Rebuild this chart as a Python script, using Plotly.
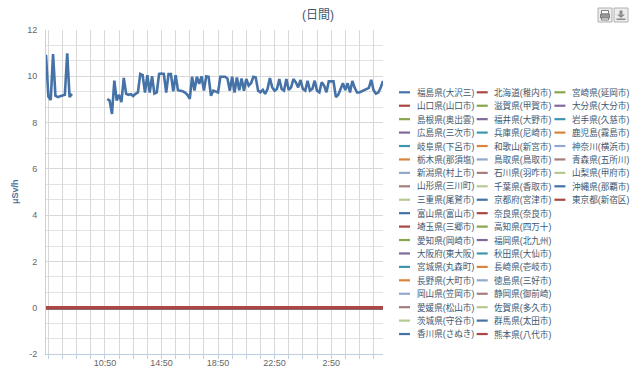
import plotly.graph_objects as go
import pandas as pd

# ---------------- data ----------------
start_time = "2013-03-01 06:40"
n_points = 144  # 10-minute readings, 06:40 -> 06:30 next day

# 福島県(大沢三) readings (μSv/h); None = no data
fukushima_seg1 = [10.93, 9.12, 8.98, 10.96, 9.16, 9.10, 9.14, 9.18, 9.20, 10.99, 9.10, 9.24]
fukushima_gap = [None] * 14
fukushima_seg2 = [
    9.02, 8.95, 8.37, 9.81, 8.95, 9.20, 8.88, 9.93, 9.24, 9.20,
    9.23, 9.15, 9.24, 9.30, 10.10, 10.05, 9.30, 10.05, 9.30, 10.00,
    9.25, 9.30, 10.10, 10.12, 10.10, 9.30, 10.10, 10.10, 9.35, 10.05,
    9.40, 9.38, 9.35, 9.30, 9.20, 9.02, 9.98, 9.38, 9.98, 9.67,
    10.00, 9.38, 10.00, 9.98, 9.16, 9.38, 9.35, 9.30, 9.98, 9.98,
    9.98, 9.90, 9.38, 9.98, 9.30, 9.95, 9.40, 9.90, 9.38, 9.88,
    9.60, 9.70, 9.98, 9.95, 9.38, 9.31, 9.41, 9.24, 9.45, 9.92,
    9.52, 9.38, 9.45, 9.88, 9.45, 9.38, 9.88, 9.41, 9.52, 9.88,
    9.74, 9.52, 9.84, 9.45, 9.38, 9.81, 9.38, 9.45, 9.81, 9.38,
    9.31, 9.74, 9.60, 9.31, 9.78, 9.78, 9.78, 9.10, 9.20, 9.45,
    9.70, 9.40, 9.70, 9.30, 9.80, 9.50, 9.30, 9.30, 9.35, 9.38,
    9.45, 9.50, 9.85, 9.40, 9.25, 9.30, 9.50, 9.80,
]
fukushima_values = fukushima_seg1 + fukushima_gap + fukushima_seg2

# every other station reads ~0 at this scale
other_values = [0.0] * n_points

legend_col1 = ["福島県(大沢三)", "山口県(山口市)", "島根県(奥出雲)", "広島県(三次市)", "岐阜県(下呂市)",
               "栃木県(那須塩)", "新潟県(村上市)", "山形県(三川町)", "三重県(尾鷲市)", "富山県(富山市)",
               "埼玉県(三郷市)", "愛知県(岡崎市)", "大阪府(東大阪)", "宮城県(丸森町)", "長野県(大町市)",
               "岡山県(笠岡市)", "愛媛県(松山市)", "茨城県(守谷市)", "香川県(さぬき)"]
legend_col2 = ["北海道(稚内市)", "滋賀県(甲賀市)", "福井県(大野市)", "兵庫県(尼崎市)", "和歌山(新宮市)",
               "鳥取県(鳥取市)", "石川県(羽咋市)", "千葉県(香取市)", "京都府(宮津市)", "奈良県(奈良市)",
               "高知県(四万十)", "福岡県(北九州)", "秋田県(大仙市)", "長崎県(壱岐市)", "徳島県(三好市)",
               "静岡県(御前崎)", "佐賀県(多久市)", "群馬県(太田市)", "熊本県(八代市)"]
legend_col3 = ["宮崎県(延岡市)", "大分県(大分市)", "岩手県(久慈市)", "鹿児島(霧島市)", "神奈川(横浜市)",
               "青森県(五所川)", "山梨県(甲府市)", "沖縄県(那覇市)", "東京都(新宿区)"]
series_names = legend_col1 + legend_col2 + legend_col3

palette = ["#4572A7", "#AA4643", "#89A54E", "#80699B", "#3D96AE",
           "#DB843D", "#92A8CD", "#A47D7C", "#B5CA92"]

x_tick_labels = ["10:50", "14:50", "18:50", "22:50", "2:50"]
y_tick_values = [-2, 0, 2, 4, 6, 8, 10, 12]
y_tick_labels = ["-2", "0", "2", "4", "6", "8", "10", "12"]

# ---------------- figure ----------------
times = pd.date_range(start=start_time, periods=n_points, freq="10min")
hour_ticks = [t for t in times if t.minute == 50]
hour_text = [t.strftime("%-H:%M") if t.strftime("%-H:%M") in x_tick_labels else "" for t in hour_ticks]

FONT = "Liberation Sans, Noto Sans CJK JP, sans-serif"
W_FIG, H_FIG = 640, 367
L, R, T, B = 46, 257, 30, 13
PW, PH = W_FIG - L - R, H_FIG - T - B

def px_x(px):
    return (px - L) / PW

def px_y(py):
    return (H_FIG - B - py) / PH

fig = go.Figure()
for i, name in enumerate(series_names):
    vals = fukushima_values if i == 0 else other_values
    fig.add_trace(go.Scatter(
        x=times, y=vals, name=name, mode="lines",
        line=dict(color=palette[i % len(palette)], width=2.6 if i == 0 else 3.4),
        connectgaps=False, showlegend=False,
    ))

# manual multi-column legend (Highcharts-style, compact rows)
shapes = []
annotations = []
row_y0, row_step = 92.3, 13.43
col_x0, col_step = 399, 77.7
for i, name in enumerate(series_names):
    col, row = divmod(i, 19)
    cy = row_y0 + row * row_step
    sx = col_x0 + col * col_step
    shapes.append(dict(type="line", xref="paper", yref="paper",
                       x0=px_x(sx), x1=px_x(sx + 11), y0=px_y(cy), y1=px_y(cy),
                       line=dict(color=palette[i % len(palette)], width=2.2)))
    annotations.append(dict(xref="paper", yref="paper", x=px_x(sx + 15.5), y=px_y(cy),
                            xanchor="left", yanchor="middle", showarrow=False,
                            text=name, font=dict(family=FONT, size=8.6, color="#3E576F")))

# y-axis title
annotations.append(dict(xref="paper", yref="paper", x=px_x(15), y=px_y(192),
                        xanchor="center", yanchor="middle", showarrow=False, textangle=-90,
                        text="<b>μSv/h</b>", font=dict(family=FONT, size=9, color="#4D759E")))

# export / print buttons (top right)
for bx in (598, 614):
    shapes.append(dict(type="rect", xref="paper", yref="paper",
                       x0=px_x(bx), x1=px_x(bx + 14), y0=px_y(8), y1=px_y(22),
                       fillcolor="#EDEDED", line=dict(color="#B0B0B0", width=1)))
# printer icon
shapes.append(dict(type="rect", xref="paper", yref="paper", x0=px_x(601.5), x1=px_x(608.5),
                   y0=px_y(10.5), y1=px_y(14), fillcolor="#FFFFFF", line=dict(color="#808080", width=1)))
shapes.append(dict(type="rect", xref="paper", yref="paper", x0=px_x(600.5), x1=px_x(609.5),
                   y0=px_y(14), y1=px_y(18), fillcolor="#9A9A9A", line=dict(color="#808080", width=1)))
shapes.append(dict(type="rect", xref="paper", yref="paper", x0=px_x(601.5), x1=px_x(608.5),
                   y0=px_y(18), y1=px_y(20), fillcolor="#FFFFFF", line=dict(color="#808080", width=1)))
# download icon
shapes.append(dict(type="rect", xref="paper", yref="paper", x0=px_x(619.5), x1=px_x(622.5),
                   y0=px_y(10.5), y1=px_y(14.5), fillcolor="#8A8A8A", line=dict(width=0)))
shapes.append(dict(type="path", xref="paper", yref="paper",
                   path=f"M {px_x(617)} {px_y(14.5)} L {px_x(625)} {px_y(14.5)} L {px_x(621)} {px_y(18)} Z",
                   fillcolor="#8A8A8A", line=dict(width=0)))
shapes.append(dict(type="rect", xref="paper", yref="paper", x0=px_x(616.5), x1=px_x(625.5),
                   y0=px_y(18.5), y1=px_y(20), fillcolor="#8A8A8A", line=dict(width=0)))

fig.update_layout(
    width=W_FIG, height=H_FIG,
    margin=dict(l=L, r=R, t=T, b=B, autoexpand=False),
    paper_bgcolor="white", plot_bgcolor="white",
    font=dict(family=FONT, color="#666666"),
    title=dict(text="(日間)", x=318 / W_FIG, xanchor="center", xref="container",
               y=1 - 15 / H_FIG, yanchor="middle", yref="container",
               font=dict(family=FONT, size=12, color="#3E576F")),
    shapes=shapes, annotations=annotations,
    showlegend=False,
    hovermode=False,
)
fig.update_xaxes(
    type="date", range=[times[0], times[-1]],
    tickmode="array", tickvals=hour_ticks, ticktext=hour_text,
    showgrid=True, gridcolor="#D9D9D9", gridwidth=1,
    showline=True, linecolor="#C0D0E0", linewidth=1,
    ticks="outside", ticklen=4, tickcolor="#C0D0E0",
    ticklabelstandoff=-4,
    tickfont=dict(family=FONT, size=9, color="#666666"),
    zeroline=False, automargin=False,
)
fig.update_yaxes(
    range=[-2, 12], tickmode="array", tickvals=y_tick_values, ticktext=y_tick_labels,
    showgrid=True, gridcolor="#D9D9D9", gridwidth=1,
    minor=dict(dtick=2 / 3, tick0=-2, showgrid=True, gridcolor="#E3E3E3", gridwidth=1),
    showline=True, linecolor="#D0D0D0", linewidth=1,
    ticks="", ticklabelstandoff=6,
    tickfont=dict(family=FONT, size=9, color="#666666"),
    zeroline=False, automargin=False,
)

fig.write_html(
    "out.html",
    config={"displayModeBar": False, "staticPlot": True},
    post_script="document.body.style.margin='0';document.body.style.overflow='hidden';",
)
